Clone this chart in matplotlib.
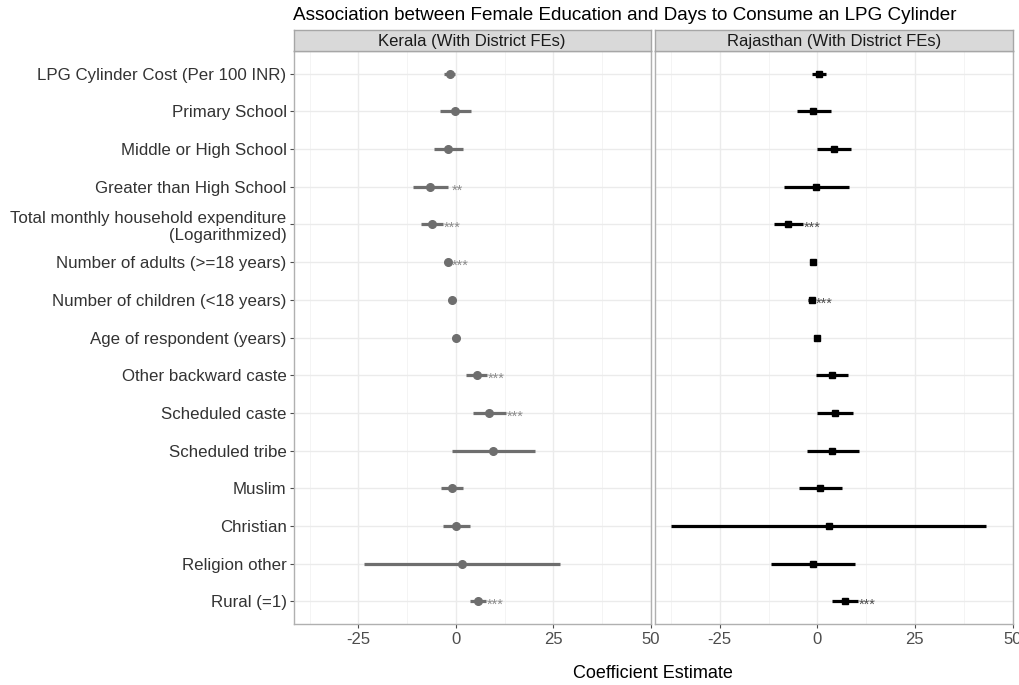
import matplotlib.pyplot as plt
import numpy as np

plt.rcParams['font.family'] = ['Liberation Sans', 'DejaVu Sans']

# coefficient table, one row per regressor (top to bottom)
terms = ['LPG Cylinder Cost (Per 100 INR)', 'Primary School', 'Middle or High School',
         'Greater than High School',
         'Total monthly household expenditure\n(Logarithmized)',
         'Number of adults (>=18 years)', 'Number of children (<18 years)',
         'Age of respondent (years)', 'Other backward caste', 'Scheduled caste',
         'Scheduled tribe', 'Muslim', 'Christian', 'Religion other', 'Rural (=1)']

kerala_est = [-1.5, -0.2, -1.9, -6.6, -6.2, -2.0, -0.9, 0.0, 5.4, 8.5, 9.6, -1.0, 0.0, 1.5, 5.6]
kerala_lo = [-3.0, -4.1, -5.6, -11.1, -9.0, -2.5, -1.3, -0.2, 2.6, 4.3, -0.9, -3.9, -3.3, -23.6, 3.7]
kerala_hi = [-0.1, 3.8, 1.95, -2.0, -3.3, -1.5, -0.5, 0.2, 7.9, 12.8, 20.2, 1.9, 3.5, 26.7, 7.7]
kerala_sig = ['', '', '', '**', '***', '***', '', '', '***', '***', '', '', '', '', '***']

raj_est = [0.5, -1.0, 4.3, -0.3, -7.4, -1.0, -1.5, 0.0, 3.8, 4.5, 3.8, 0.8, 3.0, -1.2, 7.0]
raj_lo = [-1.4, -5.2, -0.1, -8.5, -11.0, -1.8, -2.3, -0.2, -0.3, -0.2, -2.7, -4.8, -37.4, -11.9, 3.7]
raj_hi = [2.3, 3.4, 8.6, 8.0, -3.8, -0.3, -0.8, 0.2, 7.9, 9.1, 10.6, 6.3, 43.3, 9.6, 10.4]
raj_sig = ['', '', '', '', '***', '', '***', '', '', '', '', '', '', '', '***']

panels = [
    ('Kerala (With District FEs)', kerala_est, kerala_lo, kerala_hi, kerala_sig, '#6e6e6e', 'o', 5.5, '#8a8a8a'),
    ('Rajasthan (With District FEs)', raj_est, raj_lo, raj_hi, raj_sig, 'black', 's', 5.0, '#4a4a4a'),
]

star_offset = 2.5
xlim = (-41.6, 50.0)
ypos = np.arange(len(terms))

fig = plt.figure(figsize=(10.19, 6.85), dpi=100)
W, H = 1019, 685
lefts = [293.5, 655]
pw = 357.5
top, bottom = 51, 624

for i, (name, est, lo, hi, sig, col, mk, ms, scol) in enumerate(panels):
    x0 = lefts[i]
    ax = fig.add_axes([x0 / W, 1 - bottom / H, pw / W, (bottom - top) / H])
    ax.set_xlim(*xlim)
    ax.set_ylim(len(terms) - 0.4, -0.6)

    ax.set_xticks([-25, 0, 25, 50])
    ax.set_xticks([-37.5, -12.5, 12.5, 37.5], minor=True)
    ax.set_yticks(ypos)
    ax.grid(which='major', color='#ebebeb', linewidth=1.0, zorder=0)
    ax.grid(which='minor', axis='x', color='#f2f2f2', linewidth=0.6, zorder=0)
    ax.set_axisbelow(True)

    ax.hlines(ypos, lo, hi, color=col, linewidth=2.3, zorder=3)
    ax.plot(est, ypos, linestyle='none', marker=mk, color=col,
            markersize=ms, zorder=4)
    for y, h, s in zip(ypos, hi, sig):
        if s:
            ax.text(h + star_offset, y + 0.1, s, ha='center', va='center',
                    fontsize=10.5, color=scol, zorder=5)

    for sp in ax.spines.values():
        sp.set_color('#b0b0b0')
        sp.set_linewidth(1.0)
    ax.tick_params(axis='x', which='major', length=3, color='#4d4d4d',
                   labelsize=12, labelcolor='#4d4d4d', pad=3)
    ax.tick_params(axis='x', which='minor', length=0)
    if i == 0:
        ax.set_yticklabels(terms)
        ax.tick_params(axis='y', length=3, color='#4d4d4d', labelsize=12.2,
                       labelcolor='#333333', pad=2)
    else:
        ax.set_yticklabels([])
        ax.tick_params(axis='y', length=0)
    ax.set_xticklabels(['-25', '0', '25', '50'])

    # facet strip
    sax = fig.add_axes([x0 / W, 1 - top / H, pw / W, 21 / H])
    sax.set_facecolor('#d9d9d9')
    sax.set_xticks([])
    sax.set_yticks([])
    for sp in sax.spines.values():
        sp.set_color('#a6a6a6')
        sp.set_linewidth(1.0)
    sax.text(0.5, 0.45, name, ha='center', va='center', fontsize=12,
             color='#1a1a1a', transform=sax.transAxes)

fig.text(293 / W, 1 - 16 / H,
         'Association between Female Education and Days to Consume an LPG Cylinder',
         ha='left', va='center', fontsize=13.6, color='black')
fig.text(653 / W, 1 - 674 / H, 'Coefficient Estimate', ha='center', va='center',
         fontsize=13, color='black')

fig.savefig('out.png', dpi=100, facecolor='white')
